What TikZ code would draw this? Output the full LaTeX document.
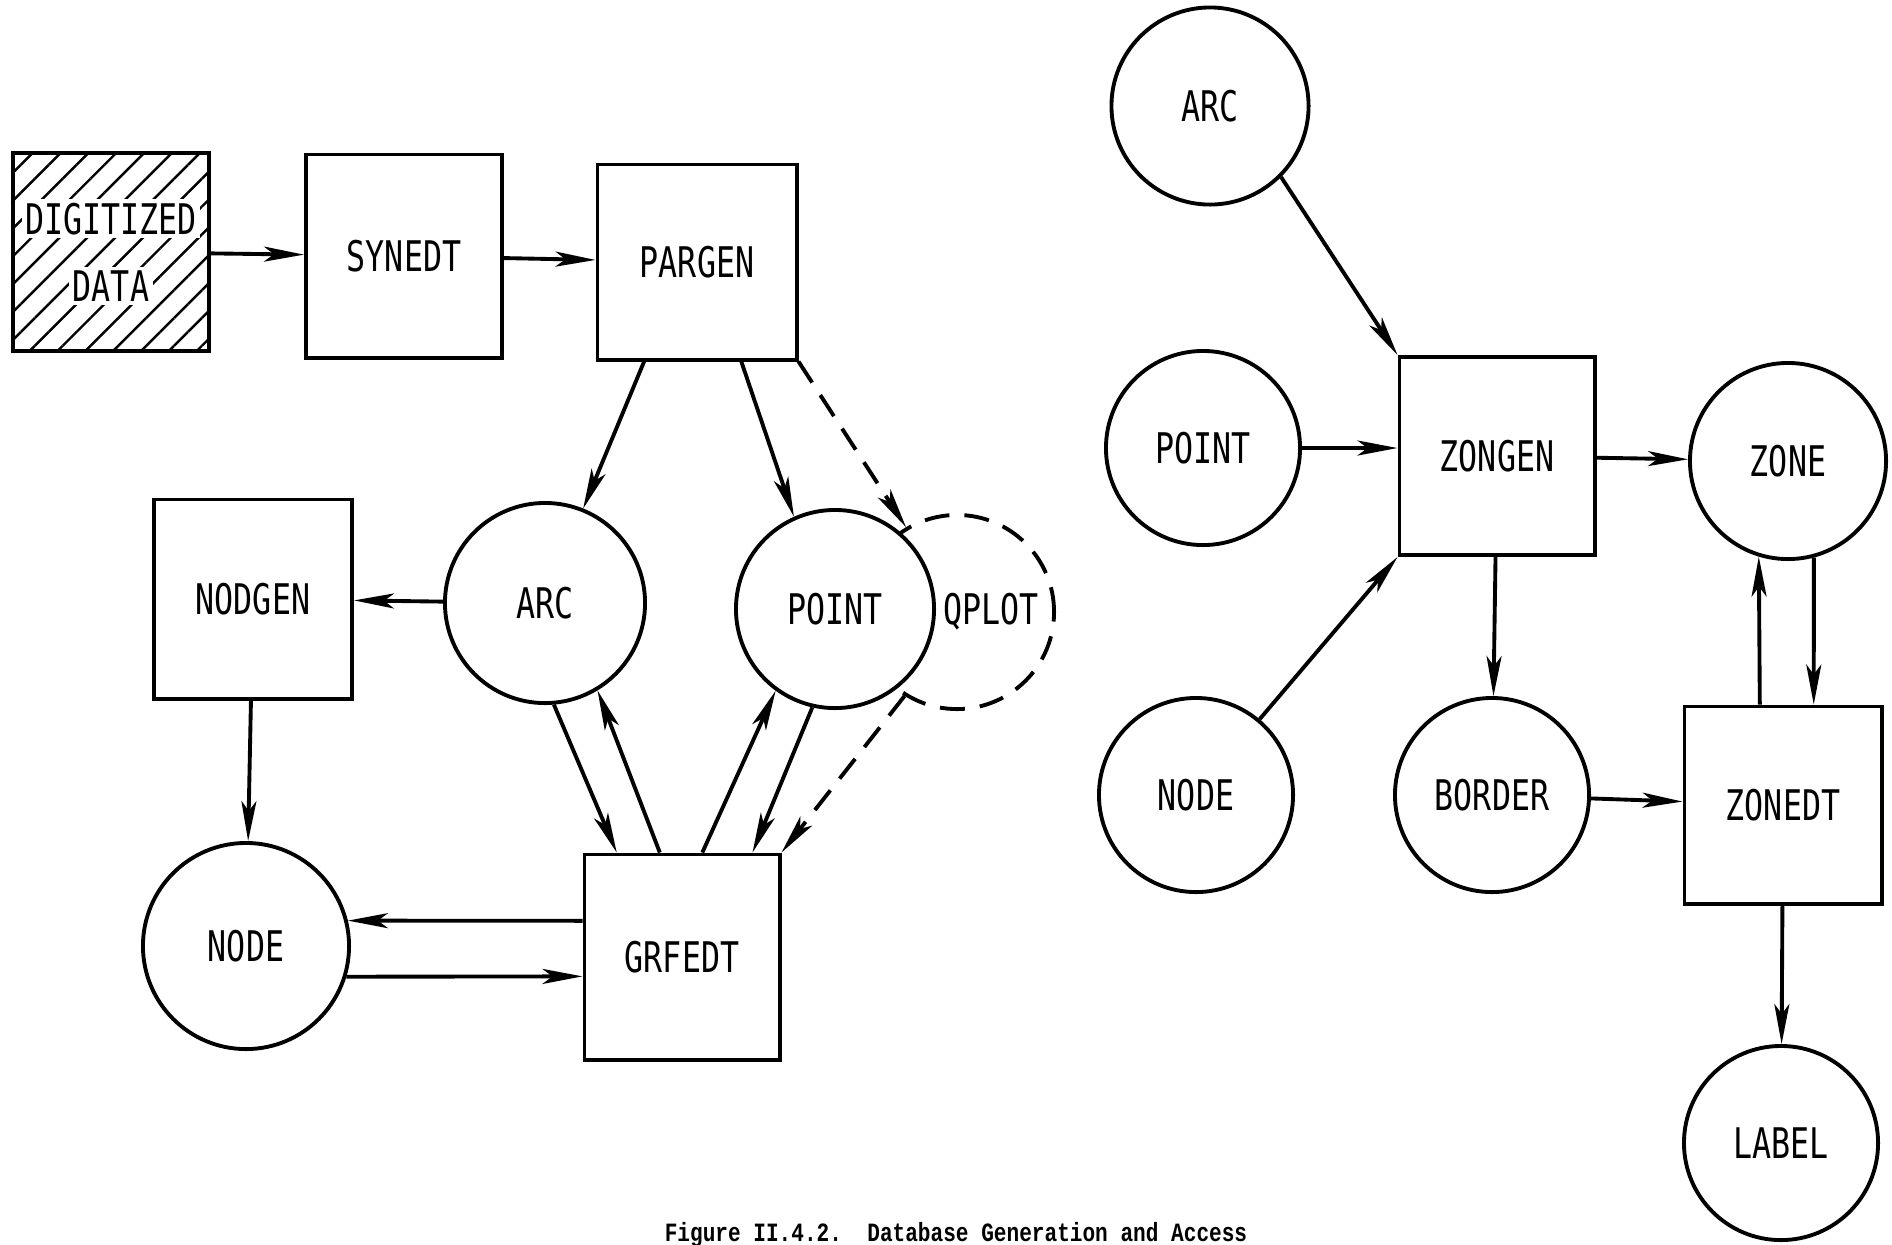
\documentclass[tikz,border=0pt]{standalone}
\usepackage{fontspec}
\newfontfamily\leroy[FakeStretch=0.75]{DejaVu Sans Mono}
\newfontfamily\typer[FakeStretch=0.8]{Liberation Mono}
\usetikzlibrary{arrows.meta}
\usetikzlibrary{patterns.meta}
\tikzset{>={Stealth[length=4mm,width=1.5mm,inset=1mm]}}
\tikzset{
    prog/.style={draw, line width=1.1pt, fill=white, minimum width=1.96cm, minimum height=2cm,
        font=\leroy\fontsize{12}{19}\selectfont},
    file/.style={draw, circle, line width=1.1pt, fill=white, minimum size=1.97cm,
        font=\leroy\fontsize{12}{19}\selectfont},
    flow/.style={->, line width=1.1pt},
    qflow/.style={flow, dash pattern=on 2.5mm off 1.5mm},
}
\setlength{\fboxsep}{1pt}

\begin{document}
\begin{tikzpicture}[x=0.01cm, y=-0.01cm]
    \useasboundingbox (0,0) rectangle (1892,1244);

    % left part: graph generation
    \node[prog, pattern={Lines[angle=45, distance=5.6pt, line width=0.7pt]}, align=center,
        inner xsep=0pt, minimum height=1.98cm] (data) at (111,252)
        {\colorbox{white}{DIGITIZED}\\\colorbox{white}{DATA}};
    \node[prog, minimum height=2.03cm] (synedt) at (404,256) {SYNEDT};
    \node[prog, minimum width=1.99cm, minimum height=1.95cm] (pargen) at (697,262) {PARGEN};
    \node[prog, minimum width=1.98cm, minimum height=1.99cm] (nodgen) at (253,599) {NODGEN};
    \node[prog, minimum width=1.95cm, minimum height=2.05cm] (grfedt) at (682,957) {GRFEDT};
    \node[file, minimum size=2cm] (arcL) at (545,603) {ARC};
    \node[file, dash pattern=on 2.5mm off 1.5mm, fill=none, minimum size=1.94cm,
        label={[font=\leroy\fontsize{12}{19}\selectfont, xshift=3.4mm]center:QPLOT}] (qplot) at (957,612) {};
    \node[file, minimum size=1.98cm] (pointL) at (835,609) {POINT};
    \node[file, minimum size=2.06cm] (nodeL) at (246,946) {NODE};

    \draw[flow] (data) -- (synedt);
    \draw[flow] (synedt) -- (pargen);
    \draw[flow] (pargen.242) -- (arcL.68);
    \draw[flow] (pargen.294) -- (pointL.114);
    \draw[qflow] (pargen.south east) -- (qplot.121);
    \draw[flow] (arcL) -- (nodgen);
    \draw[flow] (nodgen) -- (nodeL);
    \draw[flow] (arcL.275) -- (grfedt.122);
    \draw[flow] (grfedt.102) -- (arcL.301);
    \draw[flow] (grfedt.79) -- (pointL.234);
    \draw[flow] (pointL.257) -- (grfedt.56);
    \draw[qflow] (qplot.238) -- (grfedt.north east);
    \draw[flow] (grfedt.160) -- (nodeL.14);
    \draw[flow] (nodeL.343) -- (grfedt.191);

    % right part: zone generation
    \node[file] (arcR) at (1210,106) {ARC};
    \node[file, minimum size=1.94cm] (pointR) at (1203,448) {POINT};
    \node[file, minimum size=1.94cm] (nodeR) at (1196,795) {NODE};
    \node[prog, minimum width=1.95cm, minimum height=1.98cm] (zongen) at (1497,456) {ZONGEN};
    \node[file, minimum size=1.96cm] (zone) at (1788,461) {ZONE};
    \node[file, minimum size=1.94cm] (border) at (1492,795) {BORDER};
    \node[prog, minimum width=1.97cm, minimum height=1.97cm] (zonedt) at (1783,805) {ZONEDT};
    \node[file, minimum size=1.94cm] (label) at (1781,1143) {LABEL};

    \draw[flow] (arcR.315) -- (zongen.north west);
    \draw[flow] (pointR.east) -- (pointR.east -| zongen.west);
    \draw[flow] (nodeR.50) -- (zongen.south west);
    \draw[flow] (zongen) -- (zone);
    \draw[flow] (zongen) -- (border);
    \draw[flow] (border) -- (zonedt);
    \draw[flow] (zonedt.103) -- (zone.253);
    \draw[flow] (zone.285) -- (zonedt.73);
    \draw[flow] (zonedt) -- (label);

    \node[font=\typer\bfseries\fontsize{7.5}{9}\selectfont, anchor=base] (caption) at (956,1241)
        {Figure II.4.2.\ \ Database Generation and Access};
\end{tikzpicture}
\end{document}
